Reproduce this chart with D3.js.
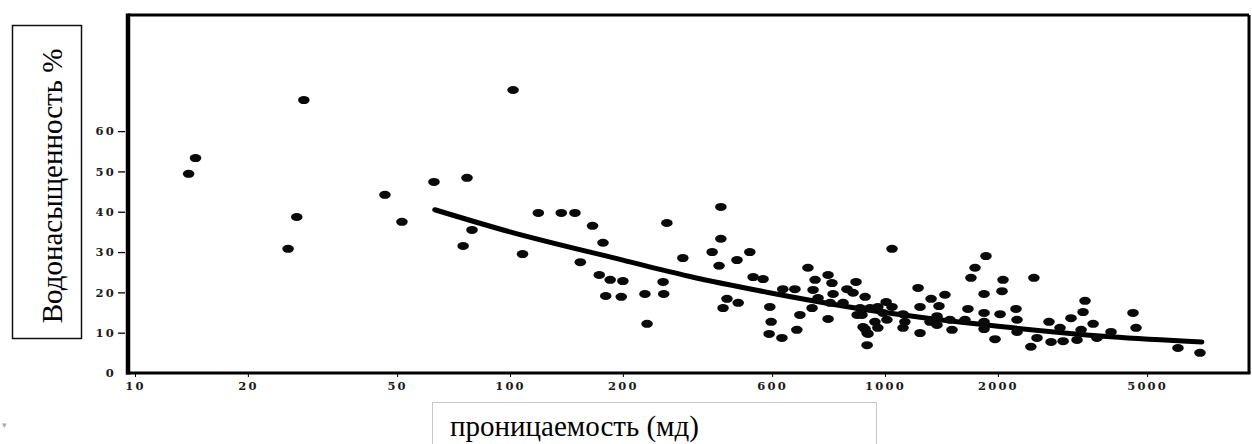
<!DOCTYPE html>
<html>
<head>
<meta charset="utf-8">
<script src="https://cdn.jsdelivr.net/npm/d3@7"></script>
<style>
  body { margin: 0; background: #fff; }
  svg { display: block; }
</style>
</head>
<body>
<div id="chart"></div>
<script>
// permeability (md) and water saturation (%)
var permeability = [
  13.9, 14.5, 28.2, 27.0, 25.6, 46.4, 51.5, 62.7, 76.8, 75.0, 79.2, 101.9,
  108, 119, 137, 149, 166, 177, 154, 173, 185, 200, 180, 198, 229, 257, 256, 232, 262, 289,
  365, 365, 346, 361, 403, 436, 445, 473, 379, 406, 370, 493, 497, 491, 531, 534, 575, 623,
  593, 582, 651, 643, 663, 639, 705, 722, 727, 714, 705, 773, 792, 837, 822, 885, 843, 874,
  896, 896, 858, 1044, 1859, 1738, 1695, 2064, 2495, 1837, 2051, 1225, 1445, 1327, 1007, 957,
  1044, 912, 1240, 1393, 1664, 1837, 2027, 2235, 868, 988, 1117, 1376, 940, 1012, 1130, 1318,
  1490, 1634, 1837, 2249, 885, 957, 1117, 1376, 1509, 1837, 2249, 901, 1240, 1965, 2543, 2449,
  2737, 2929, 2772, 2985, 3133, 3334, 3251, 3415, 3374, 3589, 3674, 4006, 4585, 4671, 6043, 6918
];
var saturation = [
  49.4, 53.3, 67.7, 38.7, 30.8, 44.2, 37.5, 47.4, 48.4, 31.5, 35.5, 70.2,
  29.5, 39.7, 39.7, 39.7, 36.5, 32.3, 27.5, 24.3, 23.1, 22.8, 19.1, 18.9, 19.6, 19.6, 22.6, 12.2, 37.2, 28.5,
  41.2, 33.3, 30.0, 26.6, 28.0, 30.0, 23.8, 23.3, 18.4, 17.4, 16.1, 16.4, 12.7, 9.7, 8.7, 20.8, 20.8, 26.1,
  14.4, 10.7, 23.1, 20.6, 18.6, 16.1, 24.3, 22.3, 19.6, 17.4, 13.4, 17.4, 20.8, 22.6, 19.9, 18.9, 14.4, 11.4,
  9.9, 6.9, 16.1, 30.8, 29.0, 26.1, 23.6, 23.1, 23.6, 19.6, 20.3, 21.1, 19.4, 18.4, 17.6, 16.4,
  16.4, 16.1, 16.4, 16.6, 15.9, 14.9, 14.6, 15.9, 14.4, 14.9, 14.6, 14.1, 12.7, 13.2, 12.7, 12.7,
  13.2, 13.2, 12.7, 13.2, 10.9, 11.2, 11.2, 11.9, 10.7, 10.9, 10.2, 9.7, 9.9, 8.4, 8.7, 6.5,
  12.7, 11.2, 7.7, 7.9, 13.6, 10.7, 8.2, 17.9, 15.1, 12.2, 8.7, 10.2, 14.9, 11.2, 6.2, 5.0
];

// trend curve
var trendK = [63, 100, 200, 300, 500, 1000, 2000, 4000, 7000];
var trendSw = [40.5, 35.0, 28.0, 24.0, 19.8, 15.0, 11.6, 9.0, 7.7];

var xTicks = [10, 20, 50, 100, 200, 500, 1000, 2000, 5000];
var xTickLabels = ['10', '20', '50', '100', '200', '600', '1000', '2000', '5000'];
var yTicks = [0, 10, 20, 30, 40, 50, 60];

var yTitle = 'Водонасыщенность %';
var xTitle = 'проницаемость (мд)';

var width = 1252;
var height = 444;
var plotLeft = 128, plotRight = 1249, plotTop = 15, plotBottom = 373;

var svg = d3.select('#chart')
  .append('svg')
  .attr('width', width)
  .attr('height', height);

var x = d3.scaleLog()
  .domain([10, 1000])
  .range([135, 885]);

var y = d3.scaleLinear()
  .domain([0, 88.8])
  .range([plotBottom, plotTop]);

// frame
var frame = svg.append('g').attr('stroke', '#000').attr('fill', 'none');
frame.append('line')
  .attr('x1', plotLeft).attr('y1', plotTop).attr('x2', plotRight).attr('y2', plotTop)
  .attr('stroke-width', 3);
frame.append('line')
  .attr('x1', plotRight).attr('y1', plotTop).attr('x2', plotRight).attr('y2', plotBottom)
  .attr('stroke-width', 3);
frame.append('line')
  .attr('x1', plotLeft - 2).attr('y1', plotBottom).attr('x2', plotRight + 1.5).attr('y2', plotBottom)
  .attr('stroke-width', 3);
frame.append('line')
  .attr('x1', plotLeft).attr('y1', plotTop - 1.5).attr('x2', plotLeft).attr('y2', plotBottom + 1.5)
  .attr('stroke-width', 4.5);

var tickFont = function(sel){
  sel.style('font-family', '"DejaVu Serif", serif')
    .style('font-weight', 'bold')
    .style('font-size', '11.5px')
    .style('letter-spacing', '2.2px')
    .attr('fill', '#1a1a1a');
};

// y axis
var yAxis = d3.axisLeft(y)
  .tickValues(yTicks)
  .tickSize(7)
  .tickPadding(2)
  .tickFormat(d3.format('d'));

var yAxisG = svg.append('g')
  .attr('transform', 'translate(' + (plotLeft - 3) + ',0)')
  .call(yAxis);
yAxisG.select('.domain').remove();
yAxisG.selectAll('.tick line').attr('stroke', '#000').attr('stroke-width', 1.3);
yAxisG.selectAll('.tick').filter(function(d){ return d === 0; }).select('line').remove();
yAxisG.selectAll('.tick text').call(tickFont);

// x axis
var xAxis = d3.axisBottom(x)
  .tickValues(xTicks)
  .tickSize(3)
  .tickPadding(5)
  .tickFormat(function(d, i){ return xTickLabels[i]; });

var xAxisG = svg.append('g')
  .attr('transform', 'translate(0,' + (plotBottom + 1) + ')')
  .call(xAxis);
xAxisG.select('.domain').remove();
xAxisG.selectAll('.tick line').attr('stroke', '#000').attr('stroke-width', 1);
xAxisG.selectAll('.tick text').call(tickFont);

// trend line
var line = d3.line()
  .x(function(d){ return x(d[0]); })
  .y(function(d){ return y(d[1]); })
  .curve(d3.curveMonotoneX);

svg.append('path')
  .datum(trendK.map(function(k, i){ return [k, trendSw[i]]; }))
  .attr('d', line)
  .attr('fill', 'none')
  .attr('stroke', '#000')
  .attr('stroke-width', 5)
  .attr('stroke-linecap', 'round');

// points
svg.append('g')
  .selectAll('ellipse')
  .data(permeability.map(function(k, i){ return [k, saturation[i]]; }))
  .enter()
  .append('ellipse')
  .attr('cx', function(d){ return x(d[0]); })
  .attr('cy', function(d){ return y(d[1]); })
  .attr('rx', 5.8)
  .attr('ry', 4)
  .attr('fill', '#0a0a0a');

// y title box
svg.append('rect')
  .attr('x', 12.5).attr('y', 25.5)
  .attr('width', 69).attr('height', 313)
  .attr('fill', 'none')
  .attr('stroke', '#111')
  .attr('stroke-width', 1.5);

svg.append('text')
  .attr('transform', 'translate(62,186) rotate(-90)')
  .attr('text-anchor', 'middle')
  .style('font-family', '"Liberation Serif", "Times New Roman", serif')
  .style('font-size', '29px')
  .attr('fill', '#000')
  .text(yTitle);

// x title box
svg.append('rect')
  .attr('x', 432.5).attr('y', 402.5)
  .attr('width', 444).attr('height', 60)
  .attr('fill', 'none')
  .attr('stroke', '#c8c8c8')
  .attr('stroke-width', 1);

svg.append('text')
  .attr('x', 450)
  .attr('y', 436)
  .style('font-family', '"Liberation Serif", "Times New Roman", serif')
  .style('font-size', '29px')
  .attr('fill', '#000')
  .text(xTitle);

svg.append('text')
  .attr('x', 2).attr('y', 428)
  .style('font-family', '"DejaVu Sans", sans-serif')
  .style('font-size', '9px')
  .attr('fill', '#aaa')
  .text('▾');
</script>
</body>
</html>
